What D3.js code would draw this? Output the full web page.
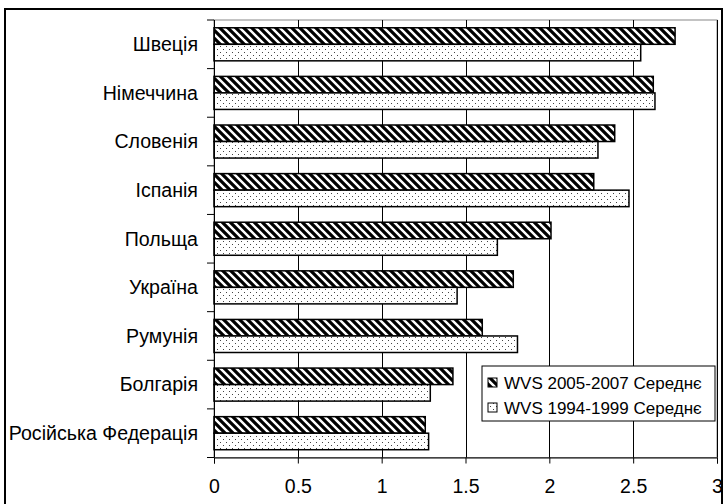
<!DOCTYPE html>
<html><head><meta charset="utf-8">
<script src="https://cdn.jsdelivr.net/npm/d3@7"></script>
<style>body{margin:0;background:#fff}svg{display:block}text{font-family:"Liberation Sans",Arial,sans-serif;fill:#000}</style>
</head><body><svg id="c" width="727" height="504"></svg>
<script>
const categories = ["Швеція","Німеччина","Словенія","Іспанія","Польща","Україна","Румунія","Болгарія","Російська Федерація"];
const seriesNames = ["WVS 2005-2007 Середнє","WVS 1994-1999 Середнє"];
const wvs2005 = [2.75, 2.62, 2.39, 2.265, 2.01, 1.785, 1.60, 1.425, 1.26];
const wvs1994 = [2.545, 2.63, 2.29, 2.475, 1.69, 1.45, 1.81, 1.29, 1.28];
const xTicks = [0, 0.5, 1, 1.5, 2, 2.5, 3];

const svg = d3.select("#c");
const defs = svg.append("defs");
const hatch = defs.append("pattern").attr("id","hatch").attr("patternUnits","userSpaceOnUse")
  .attr("width",8).attr("height",8);
hatch.append("rect").attr("width",8).attr("height",8).attr("fill","#fff");
hatch.append("path").attr("d","M-2,-2 L10,10 M-2,6 L2,10 M6,-2 L10,2").attr("stroke","#000").attr("stroke-width",3.2);
const dots = defs.append("pattern").attr("id","dots").attr("patternUnits","userSpaceOnUse")
  .attr("width",6).attr("height",6);
dots.append("rect").attr("width",6).attr("height",6).attr("fill","#fff");
dots.append("rect").attr("x",1).attr("y",1).attr("width",1).attr("height",1).attr("fill","#444");
dots.append("rect").attr("x",4).attr("y",4).attr("width",1).attr("height",1).attr("fill","#444");

// outer frame
svg.append("rect").attr("x",5).attr("y",9).attr("width",717).attr("height",500)
  .attr("fill","none").attr("stroke","#000").attr("stroke-width",2);

const L = 214, R = 717, T = 20, B = 457.5;
const x = d3.scaleLinear().domain([0,3]).range([L,R]);
const y = d3.scaleBand().domain(categories).range([T,B]).paddingInner(0.32).paddingOuter(0.16);

// plot border
svg.append("rect").attr("x",L).attr("y",T).attr("width",R-L).attr("height",B-T)
  .attr("fill","none").attr("stroke","#888").attr("stroke-width",1);
// gridlines
svg.append("g").selectAll("line").data(xTicks.slice(1)).join("line")
  .attr("x1",d=>Math.round(x(d))+0.5).attr("x2",d=>Math.round(x(d))+0.5)
  .attr("y1",T).attr("y2",B).attr("stroke","#000").attr("stroke-width",1);

const bh = y.bandwidth()/2;
const g = svg.append("g");
g.selectAll(".a").data(categories).join("rect")
  .attr("x",x(0)).attr("y",d=>y(d)).attr("width",(d,i)=>x(wvs2005[i])-x(0)).attr("height",bh)
  .attr("fill","url(#hatch)").attr("stroke","#000").attr("stroke-width",1.5);
g.selectAll(".b").data(categories).join("rect")
  .attr("x",x(0)).attr("y",d=>y(d)+bh).attr("width",(d,i)=>x(wvs1994[i])-x(0)).attr("height",bh)
  .attr("fill","url(#dots)").attr("stroke","#000").attr("stroke-width",1.5);

// axes
const xAxis = d3.axisBottom(x).tickValues(xTicks).tickSize(6).tickPadding(16).tickFormat(d=>String(d));
const gx = svg.append("g").attr("transform",`translate(0,${B})`).call(xAxis);
gx.select(".domain").attr("stroke","#000");
gx.selectAll("text").attr("font-size",19.5).attr("font-family","Liberation Sans, Arial, sans-serif");

const yAxisScale = d3.scalePoint().domain(d3.range(categories.length+1)).range([T,B]);
const gyTicks = svg.append("g");
gyTicks.append("line").attr("x1",L+0.5).attr("x2",L+0.5).attr("y1",T).attr("y2",B).attr("stroke","#000");
gyTicks.selectAll("line.t").data(d3.range(categories.length+1)).join("line").attr("class","t")
  .attr("x1",L-7).attr("x2",L).attr("y1",d=>yAxisScale(d)).attr("y2",d=>yAxisScale(d)).attr("stroke","#000");
svg.append("g").selectAll("text").data(categories).join("text")
  .attr("x",L-16).attr("y",d=>y(d)+y.bandwidth()/2).attr("dy","0.35em")
  .attr("text-anchor","end").attr("font-size",19.6).text(d=>d);

// legend
const lg = svg.append("g");
lg.append("rect").attr("x",482).attr("y",366).attr("width",233).attr("height",55)
  .attr("fill","#fff").attr("stroke","#000").attr("stroke-width",1);
const fills = ["url(#hatch)","url(#dots)"];
seriesNames.forEach((s,i)=>{
  const yy = 383 + i*25;
  lg.append("rect").attr("x",488).attr("y",yy-5).attr("width",9).attr("height",9)
    .attr("fill",fills[i]).attr("stroke","#000").attr("stroke-width",1);
  lg.append("text").attr("x",504).attr("y",yy).attr("dy","0.35em").attr("font-size",17).text(s);
});
</script></body></html>
